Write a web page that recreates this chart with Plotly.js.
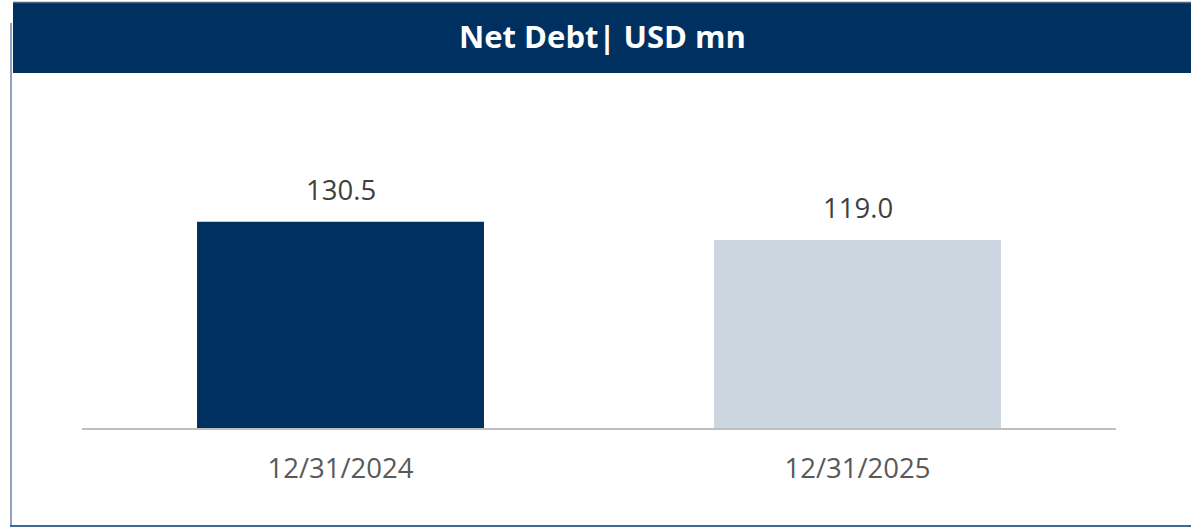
<!DOCTYPE html>
<html>
<head>
<meta charset="utf-8">
<script src="https://cdn.plot.ly/plotly-3.0.1.min.js"></script>
<style>
html,body{margin:0;padding:0;background:#fff;}
#chart{width:1191px;height:527px;}
</style>
</head>
<body>
<div id="chart"></div>
<script>
// ---- data ----
const categories = ["12/31/2024", "12/31/2025"];
const netDebt = [130.5, 119.0];
const valueLabels = ["130.5", "119.0"];
const chartTitle = "Net Debt| USD mn";

// ---- layout helpers ----
const W = 1191, H = 527;
const M = {l: 82, r: 75, t: 176, b: 99};
const PW = W - M.l - M.r, PH = H - M.t - M.b;
const px = x => (x - M.l) / PW;
const py = y => (H - M.b - y) / PH;

const navy = "#00305F";
const light = "#CCD6E1";

const trace = {
  type: "bar",
  x: categories,
  y: netDebt,
  marker: {color: [navy, light], line: {width: 0}},
  hoverinfo: "skip"
};

const annotations = categories.map((c, i) => ({
  x: c, y: netDebt[i], xref: "x", yref: "y",
  text: valueLabels[i], showarrow: false,
  yanchor: "bottom", yshift: 12,
  font: {family: "Open Sans, sans-serif", size: 27.5, color: "#404040"}
}));

const shapes = [
  // header band
  {type: "rect", xref: "paper", yref: "paper", x0: px(13), x1: px(1191), y0: py(73), y1: py(2.5),
   fillcolor: navy, line: {width: 0}, layer: "below"},
  // header top line
  {type: "line", xref: "paper", yref: "paper", x0: px(13), x1: px(1191), y0: py(2.5), y1: py(2.5),
   line: {color: "#4E6685", width: 1.5}},
  // left border
  {type: "line", xref: "paper", yref: "paper", x0: px(11), x1: px(11), y0: py(23), y1: py(526),
   line: {color: "#8EA3BD", width: 2}},
  // bottom border
  {type: "line", xref: "paper", yref: "paper", x0: px(10), x1: px(1191), y0: py(526), y1: py(526),
   line: {color: "#3F6A95", width: 2}}
];

const layout = {
  width: W, height: H,
  margin: M,
  paper_bgcolor: "#ffffff",
  plot_bgcolor: "#ffffff",
  showlegend: false,
  bargap: 0.445,
  title: {
    text: "<b>" + chartTitle + "</b>",
    x: 602.5 / W, xref: "container", xanchor: "center",
    y: 1 - 37.5 / H, yref: "container", yanchor: "middle",
    font: {family: "Open Sans, sans-serif", size: 31, color: "#ffffff"}
  },
  xaxis: {
    type: "category",
    showline: true, linecolor: "#BFBFBF", linewidth: 2,
    showgrid: false, zeroline: false, ticks: "",
    tickfont: {family: "Open Sans, sans-serif", size: 27.5, color: "#595959"},
    ticklabelstandoff: 15
  },
  yaxis: {
    range: [0, 159.5], visible: false, showgrid: false, zeroline: false, fixedrange: true
  },
  annotations: annotations,
  shapes: shapes
};

Plotly.newPlot("chart", [trace], layout, {displayModeBar: false, staticPlot: true});
</script>
</body>
</html>
